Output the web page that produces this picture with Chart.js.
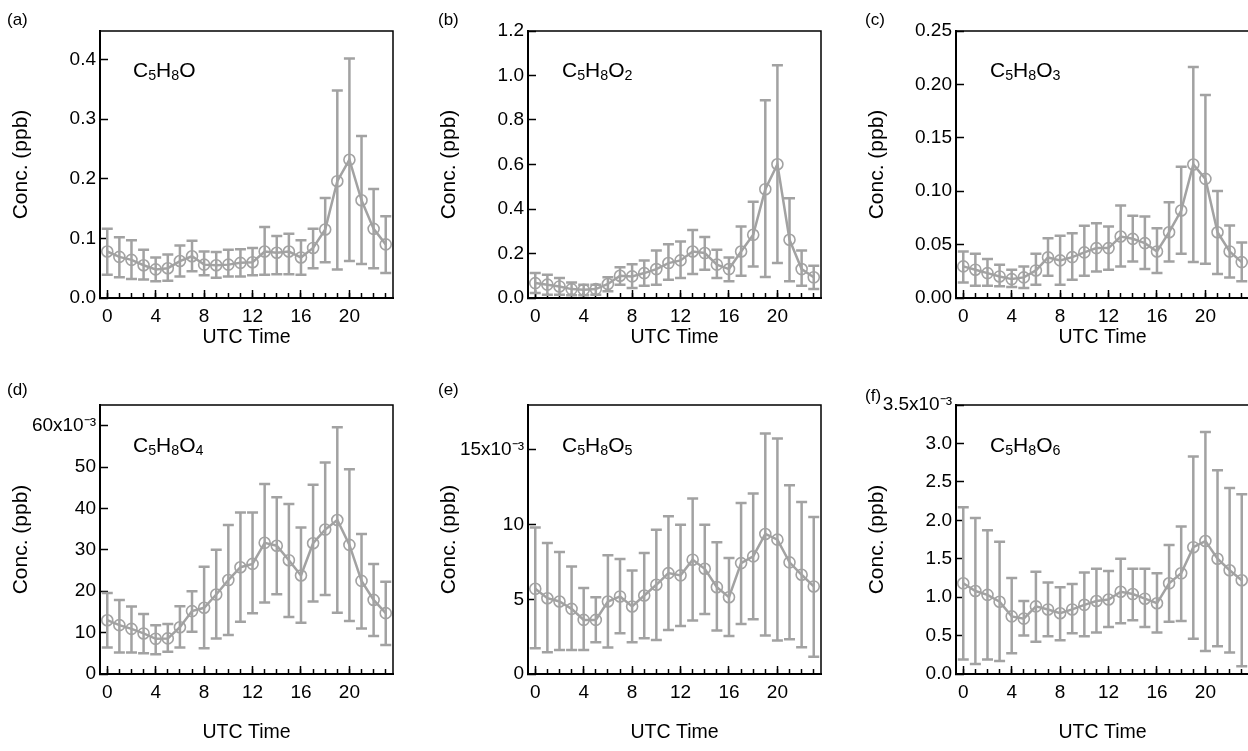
<!DOCTYPE html>
<html>
<head>
<meta charset="utf-8">
<script src="https://cdn.jsdelivr.net/npm/chart.js@4.4.1/dist/chart.umd.min.js"></script>
<style>
  html, body { margin: 0; padding: 0; background: #fff; }
  body { width: 1248px; height: 751px; overflow: hidden; position: relative;
         font-family: "Liberation Sans", Arial, Helvetica, sans-serif; }
  canvas { position: absolute; }
  .tag { position: absolute; font-size: 17px; line-height: 17px; color: #000; }
  .formula { position: absolute; font-size: 21px; line-height: 21px; color: #000; white-space: nowrap; }
  .formula sub { font-size: 68%; vertical-align: -0.22em; line-height: 0; }
</style>
</head>
<body>
<canvas id="pa" width="415" height="375" style="left:0;top:0"></canvas>
<canvas id="pb" width="415" height="375" style="left:428px;top:0"></canvas>
<canvas id="pc" width="415" height="375" style="left:856px;top:0"></canvas>
<canvas id="pd" width="415" height="376" style="left:0;top:375px"></canvas>
<canvas id="pe" width="415" height="376" style="left:428px;top:375px"></canvas>
<canvas id="pf" width="415" height="376" style="left:856px;top:375px"></canvas>

<div class="tag" style="left:7px;top:11px">(a)</div>
<div class="tag" style="left:438px;top:11px">(b)</div>
<div class="tag" style="left:865px;top:11px">(c)</div>
<div class="tag" style="left:7px;top:381px">(d)</div>
<div class="tag" style="left:438px;top:381px">(e)</div>
<div class="tag" style="left:865px;top:387px">(f)</div>

<div class="formula" style="left:133px;top:59px">C<sub>5</sub>H<sub>8</sub>O</div>
<div class="formula" style="left:562px;top:59px">C<sub>5</sub>H<sub>8</sub>O<sub>2</sub></div>
<div class="formula" style="left:990px;top:59px">C<sub>5</sub>H<sub>8</sub>O<sub>3</sub></div>
<div class="formula" style="left:133px;top:434px">C<sub>5</sub>H<sub>8</sub>O<sub>4</sub></div>
<div class="formula" style="left:562px;top:434px">C<sub>5</sub>H<sub>8</sub>O<sub>5</sub></div>
<div class="formula" style="left:990px;top:434px">C<sub>5</sub>H<sub>8</sub>O<sub>6</sub></div>

<script>
// hours of the day (UTC)
const HOURS = [0,1,2,3,4,5,6,7,8,9,10,11,12,13,14,15,16,17,18,19,20,21,22,23];
const X_MAJOR = [0,4,8,12,16,20];

// (a) C5H8O, ppb
const aMean = [0.078,0.069,0.064,0.055,0.048,0.050,0.062,0.070,0.056,0.055,0.056,0.059,0.060,0.078,0.076,0.078,0.068,0.084,0.115,0.196,0.232,0.164,0.116,0.090];
const aHi   = [0.116,0.102,0.097,0.081,0.068,0.073,0.088,0.096,0.078,0.077,0.081,0.082,0.084,0.119,0.104,0.108,0.097,0.116,0.168,0.348,0.402,0.272,0.183,0.137];
const aLo   = [0.039,0.035,0.032,0.031,0.028,0.029,0.036,0.045,0.038,0.034,0.036,0.036,0.038,0.039,0.040,0.040,0.039,0.050,0.060,0.048,0.062,0.057,0.050,0.042];

// (b) C5H8O2, ppb
const bMean = [0.067,0.060,0.052,0.040,0.037,0.040,0.063,0.100,0.097,0.112,0.130,0.157,0.169,0.209,0.202,0.150,0.130,0.209,0.284,0.489,0.601,0.262,0.130,0.093];
const bHi   = [0.112,0.105,0.090,0.070,0.060,0.060,0.093,0.138,0.152,0.169,0.214,0.242,0.254,0.306,0.274,0.217,0.182,0.321,0.433,0.889,1.046,0.448,0.214,0.145];
const bLo   = [0.022,0.015,0.015,0.012,0.012,0.015,0.030,0.060,0.045,0.055,0.060,0.082,0.090,0.108,0.127,0.090,0.075,0.100,0.142,0.094,0.157,0.075,0.055,0.040];

// (c) C5H8O3, ppb
const cMean = [0.0296,0.0265,0.0233,0.0202,0.0177,0.0193,0.0258,0.0380,0.0352,0.0383,0.0427,0.0467,0.0467,0.0576,0.0554,0.0514,0.0436,0.0616,0.0819,0.1250,0.1115,0.0616,0.0436,0.0336];
const cHi   = [0.0436,0.0414,0.0364,0.0311,0.0265,0.0296,0.0414,0.0560,0.0582,0.0607,0.0676,0.0700,0.0669,0.0866,0.0769,0.0763,0.0654,0.0897,0.1230,0.2164,0.1900,0.1002,0.0679,0.0520];
const cLo   = [0.0146,0.0115,0.0115,0.0109,0.0103,0.0093,0.0125,0.0209,0.0125,0.0171,0.0209,0.0249,0.0265,0.0296,0.0342,0.0271,0.0233,0.0342,0.0414,0.0336,0.0320,0.0224,0.0193,0.0156];

// (d) C5H8O4, x10^-3 ppb
const dMean = [13.0,11.8,10.9,9.8,8.5,8.6,11.3,15.2,16.0,19.2,22.7,25.8,26.6,31.7,31.0,27.5,23.8,31.6,34.9,37.2,31.2,22.5,17.9,14.7];
const dHi   = [19.6,17.9,16.3,14.5,11.8,12.1,16.4,20.0,25.9,30.0,36.0,39.0,39.0,45.9,42.7,41.1,35.4,45.7,51.1,59.6,49.5,33.8,26.6,22.3];
const dLo   = [6.4,5.2,5.2,5.0,4.8,5.4,6.4,10.2,6.2,8.6,9.4,12.6,14.7,17.3,19.3,13.8,12.4,17.5,19.1,14.8,12.8,11.0,9.2,7.0];

// (e) C5H8O5, x10^-3 ppb
const eMean = [5.70,5.07,4.85,4.36,3.62,3.62,4.85,5.19,4.52,5.25,5.97,6.75,6.60,7.65,7.04,5.81,5.14,7.42,7.87,9.37,8.99,7.47,6.64,5.86];
const eHi   = [9.81,8.76,8.16,7.20,5.75,5.14,7.94,7.69,6.93,8.09,9.66,10.55,9.99,11.74,9.99,8.81,7.76,11.45,12.07,16.10,15.76,12.63,11.51,10.51];
const eLo   = [1.72,1.45,1.61,1.61,1.61,2.12,1.77,2.73,2.12,2.39,2.28,2.95,3.22,3.58,4.02,2.91,2.55,3.35,3.67,2.57,2.24,2.33,1.79,1.16];

// (f) C5H8O6, x10^-3 ppb
const fMean = [1.18,1.08,1.03,0.94,0.75,0.72,0.88,0.84,0.79,0.84,0.90,0.95,0.97,1.07,1.04,0.98,0.92,1.18,1.31,1.65,1.73,1.50,1.35,1.22];
const fHi   = [2.17,2.03,1.87,1.72,1.25,0.95,1.33,1.19,1.13,1.17,1.32,1.37,1.34,1.50,1.37,1.37,1.31,1.68,1.92,2.83,3.15,2.65,2.42,2.34];
const fLo   = [0.19,0.13,0.19,0.17,0.27,0.50,0.42,0.49,0.44,0.53,0.49,0.54,0.61,0.66,0.70,0.61,0.54,0.68,0.69,0.46,0.30,0.36,0.28,0.10];

// y tick values and labels
const aTicks = [0,0.1,0.2,0.3,0.4];
const aLabels = ['0.0','0.1','0.2','0.3','0.4'];
const bTicks = [0,0.2,0.4,0.6,0.8,1.0,1.2];
const bLabels = ['0.0','0.2','0.4','0.6','0.8','1.0','1.2'];
const cTicks = [0,0.05,0.10,0.15,0.20,0.25];
const cLabels = ['0.00','0.05','0.10','0.15','0.20','0.25'];
const dTicks = [0,10,20,30,40,50,60];
const dLabels = ['0','10','20','30','40','50','60x10\u207B\u00B3'];
const eTicks = [0,5,10,15];
const eLabels = ['0','5','10','15x10\u207B\u00B3'];
const fTicks = [0,0.5,1.0,1.5,2.0,2.5,3.0,3.5];
const fLabels = ['0.0','0.5','1.0','1.5','2.0','2.5','3.0','3.5x10\u207B\u00B3'];

const GREY = '#a2a2a2';
const FONT = '"Liberation Sans", Arial, Helvetica, sans-serif';
const CAP = 5.5;   // half width of error bar caps

Chart.defaults.font.family = FONT;
Chart.defaults.color = '#000';

// vertical error bars, drawn under the line and circles
const errorBars = {
  id: 'errorBars',
  beforeDatasetsDraw(chart) {
    const { ctx } = chart;
    const x = chart.scales.x, y = chart.scales.y;
    chart.data.datasets.forEach(ds => {
      ctx.save();
      ctx.strokeStyle = ds.borderColor;
      ctx.lineWidth = 2.5;
      ds.data.forEach((p, i) => {
        const px = x.getPixelForValue(p.x);
        const top = y.getPixelForValue(ds.errHi[i]);
        const bot = y.getPixelForValue(ds.errLo[i]);
        ctx.beginPath();
        ctx.moveTo(px, top); ctx.lineTo(px, bot);
        ctx.moveTo(px - CAP, top); ctx.lineTo(px + CAP, top);
        ctx.moveTo(px - CAP, bot); ctx.lineTo(px + CAP, bot);
        ctx.stroke();
      });
      ctx.restore();
    });
  }
};

// top/right box lines around the plot area
const frame = {
  id: 'frame',
  afterDraw(chart) {
    const { ctx, chartArea: a } = chart;
    ctx.save();
    ctx.strokeStyle = '#000';
    ctx.lineWidth = 1.5;
    ctx.beginPath();
    ctx.moveTo(a.left, a.top); ctx.lineTo(a.right, a.top); ctx.lineTo(a.right, a.bottom);
    ctx.stroke();
    ctx.restore();
  }
};

function makePanel(id, mean, lo, hi, yMax, yTicks, yLabels, row) {
  const xTitleH = row === 0 ? 51 : 70;
  const pad = row === 0 ? { top: 31, right: 22, bottom: 26, left: 0 }
                        : { top: 30, right: 22, bottom: 7, left: 0 };
  return new Chart(document.getElementById(id), {
    type: 'line',
    data: {
      datasets: [{
        data: HOURS.map((h, i) => ({ x: h, y: mean[i] })),
        errLo: lo, errHi: hi,
        borderColor: GREY, borderWidth: 2.5,
        pointRadius: 5.5, pointBorderWidth: 1.6,
        pointBorderColor: GREY, pointBackgroundColor: 'rgba(0,0,0,0)',
        tension: 0, clip: false,
      }],
    },
    options: {
      responsive: false, animation: false, devicePixelRatio: 1,
      layout: { padding: pad },
      plugins: { legend: { display: false }, tooltip: { enabled: false } },
      scales: {
        x: {
          type: 'linear', position: 'bottom', weight: 0, min: -0.6, max: 23.6,
          afterBuildTicks: s => { s.ticks = HOURS.map(v => ({ value: v })); },
          afterFit: s => { s.height = 0; },
          ticks: { display: false },
          grid: { drawOnChartArea: false, tickLength: -5, tickWidth: 1.5, tickColor: '#000' },
          border: { display: true, color: '#000', width: 2 },
        },
        xMajor: {
          type: 'linear', position: 'bottom', weight: 1, min: -0.6, max: 23.6,
          afterBuildTicks: s => { s.ticks = X_MAJOR.map(v => ({ value: v })); },
          afterFit: s => { s.height = xTitleH; },
          ticks: { font: { size: 19 }, padding: 15, maxRotation: 0, callback: v => String(v) },
          grid: { drawOnChartArea: false, tickLength: -8, tickWidth: 1.5, tickColor: '#000' },
          border: { display: false },
          title: { display: true, text: 'UTC Time', font: { size: 19.5 }, padding: 0 },
        },
        y: {
          type: 'linear', min: 0, max: yMax,
          afterBuildTicks: s => { s.ticks = yTicks.map(v => ({ value: v })); },
          afterFit: s => { s.width = 100; },
          ticks: { font: { size: 19 }, padding: 12, callback: (v, i) => yLabels[i] },
          grid: { drawOnChartArea: false, tickLength: -8, tickWidth: 1.5, tickColor: '#000' },
          border: { display: true, color: '#000', width: 2 },
          title: { display: true, text: 'Conc. (ppb)', font: { size: 21 }, padding: { top: 9, bottom: 0 } },
        },
      },
    },
    plugins: [errorBars, frame],
  });
}

makePanel('pa', aMean, aLo, aHi, 0.448, aTicks, aLabels, 0);
makePanel('pb', bMean, bLo, bHi, 1.2,   bTicks, bLabels, 0);
makePanel('pc', cMean, cLo, cHi, 0.25,  cTicks, cLabels, 0);
makePanel('pd', dMean, dLo, dHi, 65,    dTicks, dLabels, 1);
makePanel('pe', eMean, eLo, eHi, 18,    eTicks, eLabels, 1);
makePanel('pf', fMean, fLo, fHi, 3.5,   fTicks, fLabels, 1);
</script>
</body>
</html>
